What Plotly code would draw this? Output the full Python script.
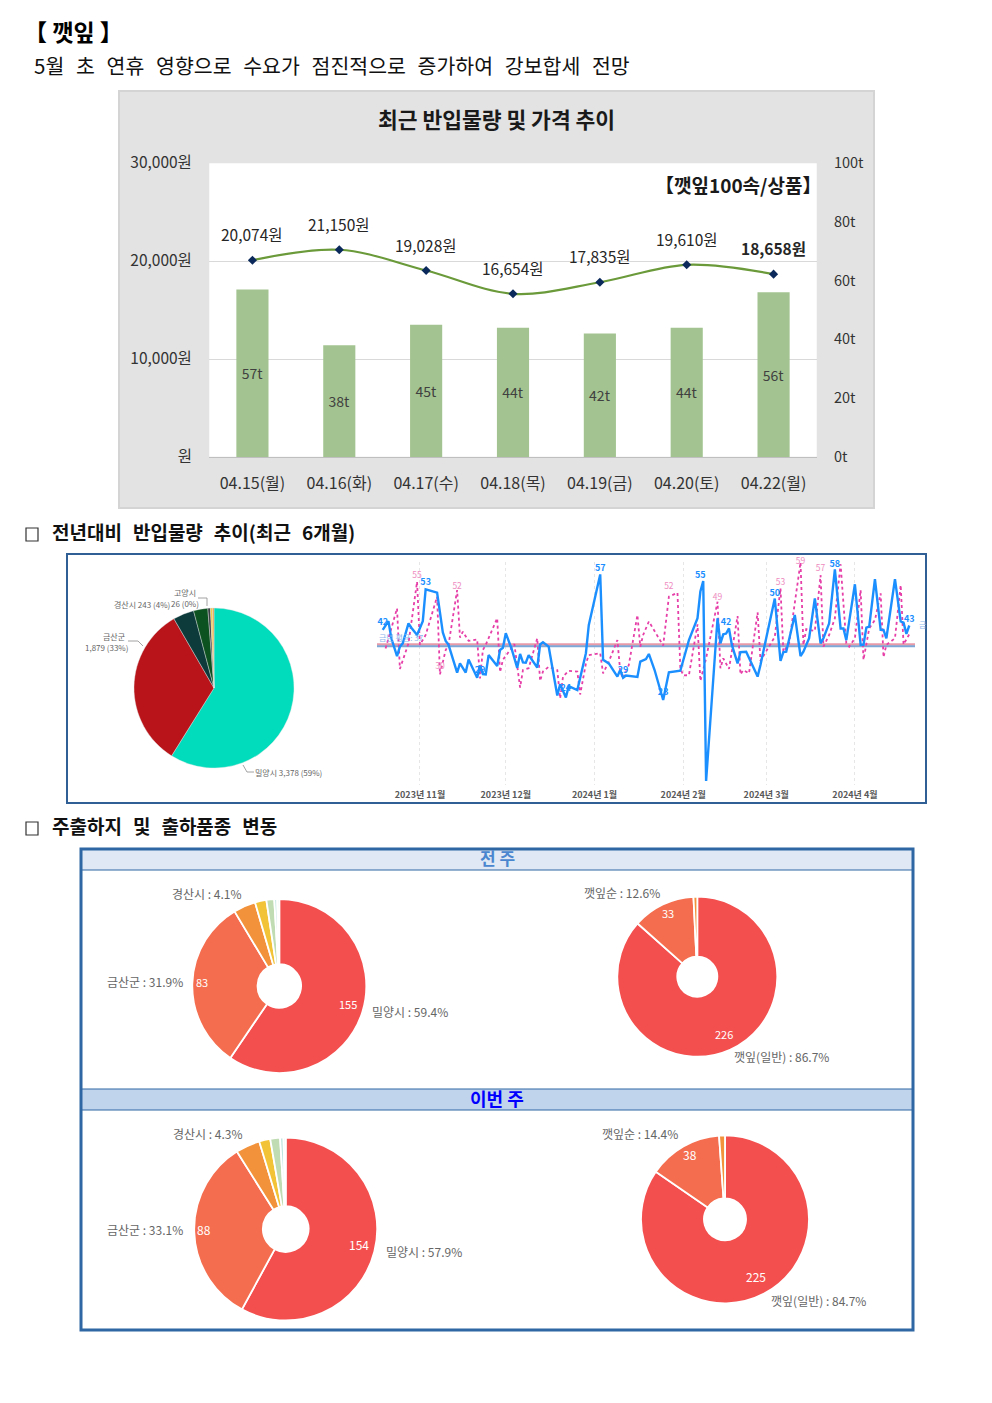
import pandas as pd
import plotly.graph_objects as go

W, H = 992, 1403
FONT = "Noto Sans CJK KR"

# weekly chart
dates = ["04.15(월)", "04.16(화)", "04.17(수)", "04.18(목)", "04.19(금)", "04.20(토)", "04.22(월)"]
volume = [57, 38, 45, 44, 42, 44, 56]
volume_labels = ["57t", "38t", "45t", "44t", "42t", "44t", "56t"]
price = [20074, 21150, 19028, 16654, 17835, 19610, 18658]
price_labels = ["20,074원", "21,150원", "19,028원", "16,654원", "17,835원", "19,610원", "<b>18,658원</b>"]
price_ticks = [0, 10000, 20000, 30000]
price_tick_labels = ["원", "10,000원", "20,000원", "30,000원"]
volume_ticks = [0, 20, 40, 60, 80, 100]
volume_tick_labels = ["0t", "20t", "40t", "60t", "80t", "100t"]

# six month chart, days counted from 2023-11-01
blue_days = [-13, -11, -10, -8, -7, -6, -4, -3, -1, 1, 2, 6, 8, 9, 10, 13, 14, 16, 17, 20, 21, 22, 23, 24, 27, 28, 29, 30,
             32, 34, 35, 36, 37, 38, 41, 42, 43, 45, 48, 49, 51, 52, 55, 58, 59, 63, 64, 66, 69, 70, 71, 72, 76, 77, 79, 80,
             82, 85, 87, 91, 94, 97, 98, 99, 100, 103, 104, 105, 106, 107, 108, 109, 111, 112, 114, 118, 119, 121, 124, 126,
             127, 128, 131, 133, 134, 136, 138, 140, 141, 143, 145, 147, 148, 149, 152, 154, 155, 156, 157, 159, 161, 162, 163,
             166, 168, 169, 170, 171]
blue_values = [41.4, 43.8, 39.1, 34.2, 36.8, 37.7, 43.2, 42, 40, 43.8, 52.5, 51.6, 40.7, 38.4, 37.3, 29.7, 32.2, 29.7, 33.3, 28.3,
               31.6, 29.3, 29.2, 34.5, 31.5, 35.9, 36.5, 40.5, 36.3, 31, 34.8, 32.5, 32.4, 34.5, 31.1, 37.4, 38, 36.8, 23.4, 26.5,
               22.9, 26, 24.9, 35, 42.7, 56.6, 33.2, 32.2, 28.6, 30.4, 28.3, 28.9, 28.5, 32.7, 33.4, 34.8,
               30.4, 22.2, 29.8, 30.2, 38.6, 44.6, 51.9, 54.8, 0, 31.8, 44.6, 37.7, 40.2, 40.4, 41.8, 37.3, 32.2, 35.3, 35.4,
               28.6, 31.8, 39.1, 50, 32.9, 35.3, 35.4, 45.5, 34.2, 35.4, 39.1, 50, 37.7, 39.1, 43.2, 58, 41.8, 41.8, 38.6, 53.9,
               37.3, 37.3, 42, 42.3, 55.3, 41.4, 41.4, 39.1, 55.3, 43.7, 43.4, 40.3, 42.6]
pink_days = [-12, -8, -7, -4, -1, 0, 2, 6, 7, 9, 10, 13, 14, 15, 17, 20, 21, 22, 23, 27, 28, 29, 33, 35, 36, 38, 41, 42, 43, 45,
             48, 49, 50, 52, 55, 56, 58, 59, 63, 64, 66, 69, 70, 71, 73, 76, 77, 78, 80, 85, 87, 90, 91, 92, 94, 97, 98, 100, 104,
             105, 106, 108, 111, 112, 113, 115, 118, 119, 124, 126, 127, 129, 133, 134, 135, 138, 140, 141, 143, 145, 147, 149,
             150, 152, 154, 155, 157, 159, 161, 162, 163, 166, 168, 169, 171]
pink_values = [36.3, 47.3, 30.7, 37.7, 54.6, 37.3, 40, 50.5, 29.2, 35.9, 37.3, 52.3, 39.3, 40.9, 38.4, 38.8, 28.1, 35.9, 37.3, 44.6,
               29.8, 33.2, 37.5, 25.6, 30.4, 30.9, 39.1, 27.4, 30, 31.3, 30.4, 22.6, 28.6, 30.2, 30, 23.7, 32.2, 34.5, 35, 29.5,
               32.7, 38.6, 30, 28.1, 31.8, 45.5, 36.8, 40, 43.7, 37.1, 50.5, 51.6, 30.9, 28.9, 29, 42.9, 27.4, 33.6, 49.1, 30.9,
               33.6, 30.7, 45.2, 29.2, 30.4, 29.5, 46.2, 32.9, 39.5, 52.8, 35.4, 37.7, 59.9, 37.3, 41.6, 41.1, 56.4, 36.8, 40, 44.6,
               59.4, 37.7, 36.8, 39.1, 52.3, 33.2, 41.8, 44.1, 51.4, 33.9, 37.3, 39.1, 53.7, 37.4, 40.2]
blue_label_days = [-13, 2, 21, 51, 63, 71, 85, 98, 107, 124, 145, 171]
blue_label_values = [42, 53, 29, 24, 57, 29, 23, 55, 42, 50, 58, 43]
pink_label_days = [-1, 13, 7, 87, 104, 126, 133, 140]
pink_label_values = [55, 52, 30, 52, 49, 53, 59, 57]
average_now = 37.4
average_prev = 36.9
month_days = [0, 30, 61, 92, 121, 152]
month_labels = ["2023년 11월", "2023년 12월", "2024년 1월", "2024년 2월", "2024년 3월", "2024년 4월"]

# region share pie
region_values = [3378, 1879, 243, 165, 30, 26, 15]
region_colors = ["#00dcbc", "#b81419", "#0d3b3b", "#0c5220", "#3a3f44", "#f2c94c", "#e8963a"]

# shipment donuts
prev_region = [155, 83, 10.7, 5.5, 3.8, 1.4, 1]
prev_item = [226, 33, 2]
now_region = [154, 88, 11.4, 5.2, 4.6, 1.6, 1]
now_item = [225, 38, 3]
donut_colors = ["#f44f4f", "#f46d4e", "#f2923a", "#f3c337", "#bfdcb3", "#bfe5e0", "#d9eee9"]


def px(x):
    return x / W


def py(y):
    return 1 - y / H


def ydom(top, bottom):
    return [py(bottom), py(top)]


def day_dates(days):
    return pd.Timestamp("2023-11-01") + pd.to_timedelta(days, unit="D")


def pie_dom(cx, cy, r):
    return dict(x=[px(cx - r), px(cx + r)], y=[py(cy + r), py(cy - r)])


fig = go.Figure()

# bars and price line
fig.add_trace(go.Bar(x=dates, y=volume, text=volume_labels, textposition="inside", insidetextanchor="middle",
                     textangle=0, width=0.37, marker=dict(color="#a3c490", line=dict(width=0)),
                     textfont=dict(size=14, color="#404040"), xaxis="x", yaxis="y"))
fig.add_trace(go.Scatter(x=dates, y=price, mode="lines+markers", line=dict(color="#6a9a3a", width=2.2, shape="spline"),
                         marker=dict(symbol="diamond", size=7, color="#0b2a5b"), xaxis="x", yaxis="y2"))

# six month lines
all_range = ["2023-10-17", "2024-04-22"]
fig.add_trace(go.Scatter(x=all_range, y=[average_now, average_now], mode="lines", line=dict(color="#e79aa8", width=2.4),
                         xaxis="x2", yaxis="y3"))
fig.add_trace(go.Scatter(x=all_range, y=[average_prev, average_prev], mode="lines", line=dict(color="#7da7d6", width=2),
                         xaxis="x2", yaxis="y3"))
fig.add_trace(go.Scatter(x=day_dates(pink_days), y=pink_values, mode="lines", line=dict(color="#e63fa8", width=1.8, dash="dot"),
                         xaxis="x2", yaxis="y3"))
fig.add_trace(go.Scatter(x=day_dates(blue_days), y=blue_values, mode="lines", line=dict(color="#1c8fff", width=2.4),
                         xaxis="x2", yaxis="y3"))
fig.add_trace(go.Scatter(x=day_dates(pink_label_days), y=pink_label_values, mode="text", text=[str(v) for v in pink_label_values],
                         textposition="top center", textfont=dict(size=8.5, color="#ee8cc0"), cliponaxis=False,
                         xaxis="x2", yaxis="y3"))
fig.add_trace(go.Scatter(x=day_dates(blue_label_days), y=blue_label_values, mode="text",
                         text=[f"<b>{v}</b>" for v in blue_label_values], cliponaxis=False,
                         textposition="top center", textfont=dict(size=9, color="#1c8fff"), xaxis="x2", yaxis="y3"))

# pies
fig.add_trace(go.Pie(values=region_values, domain=pie_dom(214, 688, 80), sort=False, direction="clockwise",
                     textinfo="none", marker=dict(colors=region_colors, line=dict(color="#e6e6e6", width=0.4))))
for vals, (cx, cy, r) in [(prev_region, (279.3, 986, 87)), (prev_item, (697.3, 976.7, 80)),
                          (now_region, (285.7, 1229, 91.5)), (now_item, (725, 1219.3, 84))]:
    fig.add_trace(go.Pie(values=vals, domain=pie_dom(cx, cy, r), hole=0.25, sort=False, direction="clockwise",
                         textinfo="none", marker=dict(colors=donut_colors, line=dict(color="white", width=1.8))))

anns = []


def text(s, x, y, size=12, color="#666666", anchor="center"):
    # rendered text sits a little low against its box
    anns.append(dict(text=s, x=px(x), y=py(y - 1.5), xref="paper", yref="paper", xanchor=anchor, yanchor="middle",
                     showarrow=False, font=dict(size=size, color=color)))


# price labels sit above their points
for d, p, lab in zip(dates, price, price_labels):
    anns.append(dict(text=lab, x=d, y=p, xref="x", yref="y2", yshift=26, showarrow=False,
                     font=dict(size=15.5, color="#262626")))

GAP = "\u00a0\u00a0\u200a\u200a"
text("<b>【\u00a0깻잎\u00a0】</b>", 73, 33, size=23, color="black")
text(GAP.join(["5월", "초", "연휴", "영향으로", "수요가", "점진적으로", "증가하여", "강보합세", "전망"]), 32, 66, size=20.5,
     color="#111111", anchor="left")
text("<b>최근 반입물량 및 가격 추이</b>", 496, 120, size=21.5, color="#1a1a1a")
text("<b>【깻잎100속/상품】</b>", 738, 186, size=19, color="#1a1a1a")
text(f"<b>{GAP.join(['전년대비', '반입물량', '추이(최근', '6개월)'])}</b>", 50, 533, size=19, color="#111111", anchor="left")
text(f"<b>{GAP.join(['주출하지', '및', '출하품종', '변동'])}</b>", 50, 827, size=19, color="#111111", anchor="left")
text("<b>전\u00a0주</b>", 497, 859, size=17, color="#4a86d0")
text("<b>이번\u00a0주</b>", 497, 1099, size=18, color="#0000ff")

text("금년 평균: 37", 401, 639, size=8, color="#8db8ec")
text("금", 922, 626, size=8, color="#8db8ec")
text("고양시", 185, 594, size=8, color="#666666")
text("경산시 243 (4%)", 142, 606, size=8, color="#666666")
text("26 (0%)", 185, 605, size=8, color="#666666")
text("금산군", 114, 638, size=8, color="#666666")
text("1,879 (33%)", 106, 649, size=8, color="#666666")
text("밀양시 3,378 (59%)", 288, 774, size=8, color="#666666")

text("경산시 : 4.1%", 207, 895)
text("금산군 : 31.9%", 145, 983)
text("밀양시 : 59.4%", 410, 1013)
text("83", 202, 983, size=11, color="white")
text("155", 348, 1006, size=11, color="white")
text("깻잎순 : 12.6%", 622, 894)
text("33", 668, 914, size=11, color="white")
text("226", 724, 1035, size=11, color="white")
text("깻잎(일반) : 86.7%", 781, 1058)
text("경산시 : 4.3%", 208, 1135)
text("금산군 : 33.1%", 145, 1231)
text("밀양시 : 57.9%", 424, 1253)
text("88", 204, 1231, size=12, color="white")
text("154", 359, 1246, size=12, color="white")
text("깻잎순 : 14.4%", 640, 1135)
text("38", 690, 1156, size=12, color="white")
text("225", 756, 1278, size=12, color="white")
text("깻잎(일반) : 84.7%", 818, 1302)


def rect(x0, y0, x1, y1, fill=None, line=None, width=0, layer="below"):
    return dict(type="rect", xref="paper", yref="paper", x0=px(x0), x1=px(x1), y0=py(y0), y1=py(y1), layer=layer,
                fillcolor=fill if fill else "rgba(0,0,0,0)",
                line=dict(color=line if line else "rgba(0,0,0,0)", width=width))


def leader(points):
    path = "M " + " L ".join(f"{px(a):.5f},{py(b):.5f}" for a, b in points)
    return dict(type="path", xref="paper", yref="paper", path=path, line=dict(color="#8c8c8c", width=0.8))


shapes = [
    rect(119, 91, 874, 508, fill="#e3e3e3", line="#d4d4d4", width=2),
    rect(209, 163, 817, 457, fill="white", line="#e3e3e3", width=0.5),
    rect(67, 554, 926, 803, line="#2f5f95", width=2),
    rect(81, 849, 913, 1330, line="#2f66a4", width=3),
    rect(82, 850, 912, 870, fill="#dfe8f4", line="#2f66a4", width=1),
    rect(82, 1089, 912, 1110, fill="#c0d4ec", line="#2f66a4", width=1),
    rect(26, 528, 38, 541, line="#333333", width=1.2),
    rect(26, 822, 38, 835, line="#333333", width=1.2),
    leader([(198, 598), (207, 598), (207, 606)]),
    leader([(128, 641), (138, 641), (143, 646)]),
    leader([(243, 765), (247, 772), (254, 772)]),
]

fig.update_layout(
    width=W, height=H, margin=dict(l=0, r=0, t=0, b=0), showlegend=False, paper_bgcolor="white",
    plot_bgcolor="rgba(0,0,0,0)", font=dict(family=FONT, color="#333333"), bargap=0.63,
    annotations=anns, shapes=shapes,
    xaxis=dict(domain=[px(209), px(817)], anchor="y", type="category", automargin=False, showgrid=False, showline=True,
               linecolor="#bfbfbf", ticks="outside", ticklen=12, tickcolor="rgba(0,0,0,0)", tickfont=dict(size=16, color="#333333")),
    yaxis=dict(domain=ydom(163, 457), anchor="x", side="right", range=[0, 100], tickvals=volume_ticks, automargin=False,
               ticktext=volume_tick_labels, showgrid=False, zeroline=False, ticks="outside", ticklen=13,
               tickcolor="rgba(0,0,0,0)", tickfont=dict(size=14.5, color="#333333")),
    yaxis2=dict(domain=ydom(163, 457), anchor="x", overlaying="y", side="left", range=[0, 30000], tickvals=price_ticks,
                automargin=False, ticktext=price_tick_labels, showgrid=True, gridcolor="#d9d9d9", gridwidth=1, zeroline=False,
                ticks="outside", ticklen=13, tickcolor="rgba(0,0,0,0)", tickfont=dict(size=15.5, color="#333333")),
    xaxis2=dict(domain=[px(377), px(915)], anchor="y3", type="date", range=all_range, tickvals=day_dates(month_days),
                automargin=False, ticktext=[f"<b>{m}</b>" for m in month_labels], showgrid=True, gridcolor="#e6e6e6",
                griddash="dot", gridwidth=1, showline=False, zeroline=False, ticks="outside", ticklen=1,
                tickcolor="rgba(0,0,0,0)", tickfont=dict(size=9, color="#595959")),
    yaxis3=dict(domain=ydom(562, 785), anchor="x2", range=[-1.1, 60], automargin=False, showticklabels=False, showgrid=False,
                zeroline=False),
)

fig.write_html("out.html", config={"displayModeBar": False}, post_script="document.body.style.margin='0';")
